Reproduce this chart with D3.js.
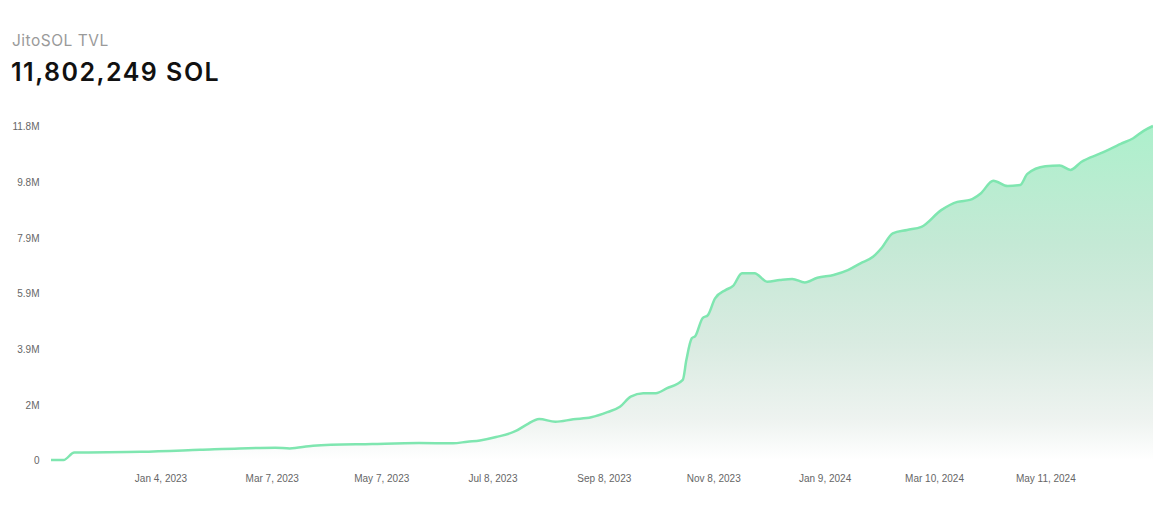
<!DOCTYPE html>
<html>
<head>
<meta charset="utf-8">
<script src="https://cdn.jsdelivr.net/npm/d3@7"></script>
<style>
  html, body { margin: 0; padding: 0; background: #ffffff; }
  svg { display: block; }
</style>
</head>
<body>
<svg id="chart" width="1153" height="532"></svg>
<script>
// ---- Data ----
const chartTitle = "JitoSOL TVL";
const currentTvl = 11802249;
const unit = "SOL";

const dates = [
  "2022-11-04","2022-11-11","2022-11-17","2022-12-24","2023-01-26","2023-02-17",
  "2023-03-09","2023-03-17","2023-03-30","2023-05-02","2023-05-28","2023-06-16",
  "2023-06-24","2023-07-01","2023-07-10","2023-07-21","2023-07-27","2023-08-03",
  "2023-08-12","2023-08-22","2023-09-01","2023-09-10","2023-09-17","2023-09-23",
  "2023-09-30","2023-10-07","2023-10-13","2023-10-22","2023-10-24","2023-10-27",
  "2023-10-29","2023-11-02","2023-11-05","2023-11-09","2023-11-15","2023-11-19",
  "2023-11-24","2023-12-01","2023-12-08","2023-12-15","2023-12-22","2023-12-29",
  "2024-01-05","2024-01-14","2024-01-22","2024-01-29","2024-02-05","2024-02-10",
  "2024-02-16","2024-02-24","2024-03-03","2024-03-14","2024-03-23","2024-03-30",
  "2024-04-05","2024-04-12","2024-04-20","2024-04-27","2024-05-01","2024-05-11",
  "2024-05-19","2024-05-25","2024-05-31","2024-06-11","2024-06-22","2024-06-29",
  "2024-07-05","2024-07-10"
];
// TVL in millions of SOL
const tvlMillions = [
  0, 0, 0.265, 0.29, 0.36, 0.41,
  0.43, 0.41, 0.505, 0.565, 0.60, 0.59,
  0.647, 0.69, 0.81, 1.025, 1.25, 1.45,
  1.35, 1.44, 1.51, 1.69, 1.88, 2.24,
  2.36, 2.36, 2.53, 2.83, 3.53, 4.30,
  4.38, 5.01, 5.12, 5.71, 6.01, 6.15,
  6.60, 6.60, 6.30, 6.36, 6.40, 6.27,
  6.44, 6.54, 6.71, 6.95, 7.18, 7.51,
  8.01, 8.13, 8.24, 8.83, 9.12, 9.19,
  9.42, 9.87, 9.68, 9.72, 10.11, 10.38,
  10.41, 10.25, 10.53, 10.84, 11.17, 11.37,
  11.64, 11.802249
];
const xTickDates = [
  "2023-01-04","2023-03-07","2023-05-07","2023-07-08","2023-09-08",
  "2023-11-08","2024-01-09","2024-03-10","2024-05-11"
];

// ---- Drawing ----
const parse = d3.utcParse("%Y-%m-%d");
const data = dates.map((d, i) => ({ date: parse(d), v: tvlMillions[i] }));

const svg = d3.select("#chart");
const plot = { left: 51, right: 1153, top: 126, bottom: 460 };

const x = d3.scaleUtc()
  .domain(d3.extent(data, d => d.date))
  .range([plot.left, plot.right]);

const yMax = currentTvl / 1e6;
const y = d3.scaleLinear()
  .domain([0, yMax])
  .range([plot.bottom, plot.top]);

// Title texts
svg.append("text")
  .attr("x", 12).attr("y", 46)
  .attr("font-family", "Inter, 'Noto Sans', sans-serif")
  .attr("font-size", 15.5)
  .attr("fill", "#9a9a9a")
  .attr("letter-spacing", 0.5)
  .text(chartTitle);

svg.append("text")
  .attr("x", 11).attr("y", 81)
  .attr("font-family", "Inter, 'Noto Sans', sans-serif")
  .attr("font-size", 25)
  .attr("font-weight", 600)
  .attr("fill", "#111111")
  .attr("letter-spacing", 1.5)
  .text(d3.format(",")(currentTvl) + " " + unit);

// Gradient
const defs = svg.append("defs");
const grad = defs.append("linearGradient")
  .attr("id", "areaGrad")
  .attr("gradientUnits", "userSpaceOnUse")
  .attr("x1", 0).attr("y1", plot.top)
  .attr("x2", 0).attr("y2", plot.bottom);
[
  [0, "#adf0cc"],
  [0.35, "#c4e9d5"],
  [0.65, "#d9ebe1"],
  [0.88, "#eef3f0"],
  [1, "#ffffff"]
].forEach(([o, c]) => grad.append("stop").attr("offset", o).attr("stop-color", c));

const area = d3.area()
  .x(d => x(d.date))
  .y0(plot.bottom)
  .y1(d => y(d.v))
  .curve(d3.curveMonotoneX);

const line = d3.line()
  .x(d => x(d.date))
  .y(d => y(d.v))
  .curve(d3.curveMonotoneX);

svg.append("path")
  .datum(data)
  .attr("d", area)
  .attr("fill", "url(#areaGrad)");

svg.append("path")
  .datum(data)
  .attr("d", line)
  .attr("fill", "none")
  .attr("stroke", "#7fe6b0")
  .attr("stroke-width", 2.5)
  .attr("stroke-linejoin", "round");

// Y axis (labels only)
const yTicks = d3.range(7).map(i => i * yMax / 6);
const yFmt = v => v === 0 ? "0" : (+v.toFixed(1)).toString() + "M";
const yAxis = d3.axisLeft(y)
  .tickValues(yTicks)
  .tickFormat(yFmt)
  .tickSize(0)
  .tickPadding(0);
const gy = svg.append("g")
  .attr("transform", `translate(39.5,0.5)`)
  .call(yAxis);
gy.select(".domain").remove();
gy.selectAll("text")
  .attr("font-family", "'Liberation Sans', Arial, sans-serif")
  .attr("font-size", 10)
  .attr("fill", "#666666");

// X axis (labels only)
const xFmt = d3.utcFormat("%b %-d, %Y");
const xAxis = d3.axisBottom(x)
  .tickValues(xTickDates.map(parse))
  .tickFormat(xFmt)
  .tickSize(0)
  .tickPadding(0);
const gx = svg.append("g")
  .attr("transform", `translate(0,475)`)
  .call(xAxis);
gx.select(".domain").remove();
gx.selectAll("text")
  .attr("font-family", "'Liberation Sans', Arial, sans-serif")
  .attr("font-size", 10)
  .attr("fill", "#666666");
</script>
</body>
</html>
